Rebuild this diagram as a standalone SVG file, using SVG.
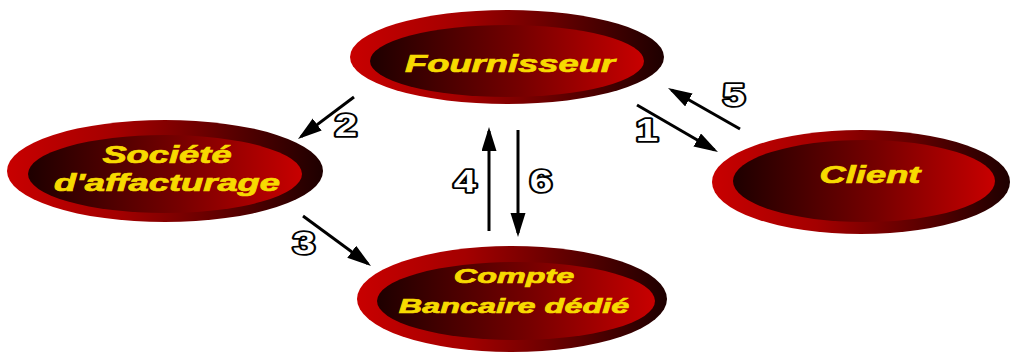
<svg xmlns="http://www.w3.org/2000/svg" width="1016" height="356" viewBox="0 0 1016 356">
  <defs>
    <!-- outer rim: bright red on the left fading to near-black on the right -->
    <linearGradient id="rim" x1="0" y1="0" x2="1" y2="0">
      <stop offset="0" stop-color="#c80000"/>
      <stop offset="0.35" stop-color="#a40000"/>
      <stop offset="1" stop-color="#1e0000"/>
    </linearGradient>
    <!-- inner face: reversed, dark on the left to red on the right -->
    <linearGradient id="face" x1="0" y1="0" x2="1" y2="0">
      <stop offset="0" stop-color="#1e0000"/>
      <stop offset="0.55" stop-color="#760000"/>
      <stop offset="1" stop-color="#c80000"/>
    </linearGradient>
    <marker id="head" markerUnits="userSpaceOnUse" markerWidth="26" markerHeight="16" refX="20" refY="7.5" orient="auto">
      <path d="M0,0 L24,7.5 L0,15 z" fill="#000"/>
    </marker>
    <style>
      .rim { fill: url(#rim); }
      .face { fill: url(#face); }
      .label { font-family: "Liberation Sans", Arial, sans-serif; font-weight: bold; font-style: italic; font-size: 23px; fill: #f7da00; stroke: #f7da00; stroke-width: 0.7; text-anchor: middle; }
      .small { font-size: 20.5px; }
      .edge { stroke: #000; stroke-width: 3; fill: none; marker-end: url(#head); }
      .num { font-family: "Liberation Sans", Arial, sans-serif; font-weight: bold; font-size: 31px; fill: #fff; stroke: #000; stroke-width: 3.6; paint-order: stroke; stroke-linejoin: round; text-anchor: middle; }
    </style>
  </defs>

  <g id="fournisseur">
    <ellipse class="rim" cx="507" cy="57" rx="157" ry="47"/>
    <ellipse class="face" cx="507" cy="61" rx="137" ry="36"/>
    <text class="label" transform="translate(510,72) scale(1.58,1)">Fournisseur</text>
  </g>

  <g id="societe">
    <ellipse class="rim" cx="165" cy="171" rx="158" ry="51"/>
    <ellipse class="face" cx="165" cy="174" rx="137" ry="39"/>
    <text class="label" transform="translate(167,163) scale(1.58,1)">Société</text>
    <text class="label" transform="translate(167,191) scale(1.58,1)">d'affacturage</text>
  </g>

  <g id="client">
    <ellipse class="rim" cx="861" cy="182" rx="149" ry="52"/>
    <ellipse class="face" cx="864" cy="181" rx="131" ry="41"/>
    <text class="label" transform="translate(870,183) scale(1.58,1)">Client</text>
  </g>

  <g id="compte">
    <ellipse class="rim" cx="512" cy="299" rx="155" ry="53"/>
    <ellipse class="face" cx="516" cy="301" rx="139" ry="39"/>
    <text class="label small" transform="translate(514,283) scale(1.58,1)">Compte</text>
    <text class="label small" transform="translate(514,313) scale(1.58,1)">Bancaire dédié</text>
  </g>

  <g id="connectors">
    <line class="edge" x1="354" y1="97" x2="301.2" y2="136.6"/>
    <line class="edge" x1="637" y1="105" x2="714.5" y2="150"/>
    <line class="edge" x1="740" y1="129" x2="671.5" y2="90"/>
    <line class="edge" x1="303" y1="216" x2="367.8" y2="263.6"/>
    <line class="edge" x1="489" y1="231" x2="489" y2="131"/>
    <line class="edge" x1="518" y1="130" x2="518" y2="233"/>
    <text class="num" transform="translate(346,135.5) scale(1.3,1)">2</text>
    <text class="num" transform="translate(647,141) scale(1.3,1)">1</text>
    <text class="num" transform="translate(734,105.5) scale(1.3,1)">5</text>
    <text class="num" transform="translate(304,253.5) scale(1.3,1)">3</text>
    <text class="num" transform="translate(465,191.5) scale(1.3,1)">4</text>
    <text class="num" transform="translate(541,191.5) scale(1.3,1)">6</text>
  </g>
</svg>
